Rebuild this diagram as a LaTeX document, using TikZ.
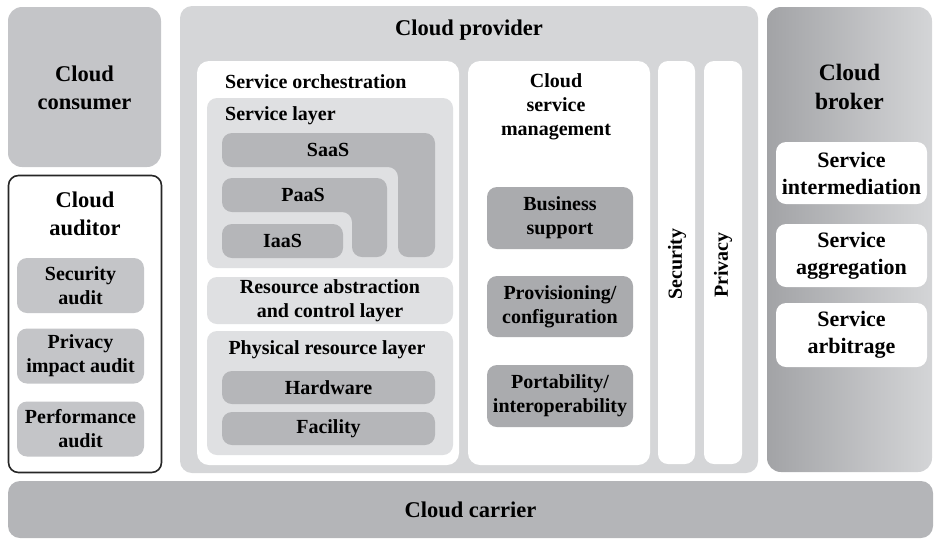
\documentclass[tikz,border=0pt]{standalone}
\usepackage{fontspec}
\setmainfont{Liberation Serif}
\usetikzlibrary{positioning}

\definecolor{consumergray}{HTML}{C4C5C8}
\definecolor{providergray}{HTML}{D5D6D8}
\definecolor{layergray}{HTML}{DFE0E2}
\definecolor{servicegray}{HTML}{B5B6B9}
\definecolor{mgmtgray}{HTML}{AAABAE}
\definecolor{auditgray}{HTML}{C4C5C8}
\definecolor{carriergray}{HTML}{B4B5B8}
\definecolor{brokerdark}{HTML}{A2A3A6}
\definecolor{brokerlight}{HTML}{D4D5D7}

\begin{document}
\begin{tikzpicture}[
    x=1pt, y=-1pt,
    font=\bfseries\fontsize{20}{24}\selectfont,
    box/.style={rounded corners=10pt, inner sep=0pt, align=center},
    bigbox/.style={box, rounded corners=14pt},
    head/.style={inner sep=0pt, align=center, font=\bfseries\fontsize{22.5}{28}\selectfont},
    label/.style={inner sep=0pt, align=center},
    lightbox/.style={box, fill=layergray},
    darkbox/.style={box, fill=servicegray},
    mgmtbox/.style={box, fill=mgmtgray},
    whitebox/.style={box, fill=white},
    brokeritem/.style={whitebox, minimum width=151pt, font=\bfseries\fontsize{22}{27}\selectfont}
]
\useasboundingbox (0,0) rectangle (934,542);

% ================= CLOUD CONSUMER =================
\node[bigbox, fill=consumergray, minimum width=153pt, minimum height=160pt] (consumer) at (84.5,87) {};
\node[head] (consumerT) at (84.5,88) {Cloud\\consumer};

% ================= CLOUD AUDITOR =================
\node[box, draw=black!85, line width=1.6pt, fill=white, minimum width=153pt, minimum height=297pt] (auditor) at (85,324) {};
\node[head] (auditorT) at (85,214) {Cloud\\auditor};
\node[box, fill=auditgray, minimum width=127pt, minimum height=55pt] (secaudit) at (80.5,285.5) {Security\\audit};
\node[box, fill=auditgray, minimum width=127pt, minimum height=55pt] (privaudit) at (80.5,356) {Privacy\\impact audit};
\node[box, fill=auditgray, minimum width=127pt, minimum height=55pt] (perfaudit) at (80.5,429) {Performance\\audit};

% ================= CLOUD PROVIDER =================
\node[box, rounded corners=12pt, fill=providergray, minimum width=578pt, minimum height=467pt] (provider) at (469,239.5) {};
\node[head] (providerT) at (469,30) {Cloud provider};

% Service orchestration
\node[whitebox, rounded corners=12pt, minimum width=262pt, minimum height=404pt] (orch) at (328,263) {};
\node[label, anchor=west] (orchT) at (225,82) {Service orchestration};

% Service layer
\node[lightbox, minimum width=246pt, minimum height=170pt] (svclayer) at (330,183) {};
\node[label, anchor=west] (svclayerT) at (225,116) {Service layer};
\fill[servicegray, rounded corners=10pt] (222,133) -- (435,133) -- (435,257) -- (398,257) -- (398,167) -- (222,167) -- cycle;
\fill[servicegray, rounded corners=10pt] (222,178) -- (387,178) -- (387,257) -- (352,257) -- (352,212) -- (222,212) -- cycle;
\node[darkbox, minimum width=121pt, minimum height=34pt] (iaas) at (282.5,241) {IaaS};
\node[label] (saas) at (328,150) {SaaS};
\node[label] (paas) at (303,195) {PaaS};

% Resource abstraction and physical layer
\node[lightbox, minimum width=246pt, minimum height=47pt] (resabs) at (330,300.5) {Resource abstraction\\and control layer};
\node[lightbox, minimum width=246pt, minimum height=124pt] (physlayer) at (330,393) {};
\node[label] (physT) at (327,350) {Physical resource layer};
\node[darkbox, minimum width=213pt, minimum height=33pt] (hardware) at (328.5,387.5) {Hardware};
\node[darkbox, minimum width=213pt, minimum height=33pt] (facility) at (328.5,428.5) {Facility};

% Cloud service management
\node[whitebox, rounded corners=12pt, minimum width=182pt, minimum height=404pt] (mgmt) at (559,263) {};
\node[label] (mgmtT) at (556,107) {Cloud\\service\\management};
\node[mgmtbox, minimum width=146pt, minimum height=62pt] (business) at (560,218) {Business\\support};
\node[mgmtbox, minimum width=146pt, minimum height=61pt] (provision) at (560,306.5) {Provisioning/\\configuration};
\node[mgmtbox, minimum width=146pt, minimum height=62pt] (portab) at (560,396) {Portability/\\interoperability};

% Security and privacy columns
\node[whitebox, minimum width=37pt, minimum height=403pt] (security) at (676.5,262.5) {};
\node[label, rotate=90] (securityT) at (677,264) {Security};
\node[whitebox, minimum width=38pt, minimum height=403pt] (privacy) at (723,262.5) {};
\node[label, rotate=90] (privacyT) at (723,265) {Privacy};

% ================= CLOUD BROKER =================
\node[box, rounded corners=14pt, left color=brokerdark, right color=brokerlight, minimum width=165pt, minimum height=465pt] (broker) at (849.5,239.5) {};
\node[head, font=\bfseries\fontsize{23.5}{29}\selectfont] (brokerT) at (849.5,87) {Cloud\\broker};
\node[brokeritem, minimum height=62pt] (intermed) at (851.5,173) {Service\\intermediation};
\node[brokeritem, minimum height=63pt] (aggreg) at (851.5,255.5) {Service\\aggregation};
\node[brokeritem, minimum height=64pt] (arbit) at (851.5,335) {Service\\arbitrage};

% ================= CLOUD CARRIER =================
\node[box, rounded corners=12pt, fill=carriergray, minimum width=925pt, minimum height=57pt, font=\bfseries\fontsize{22.5}{28}\selectfont] (carrier) at (470.5,509.5) {Cloud carrier};

\end{tikzpicture}
\end{document}
